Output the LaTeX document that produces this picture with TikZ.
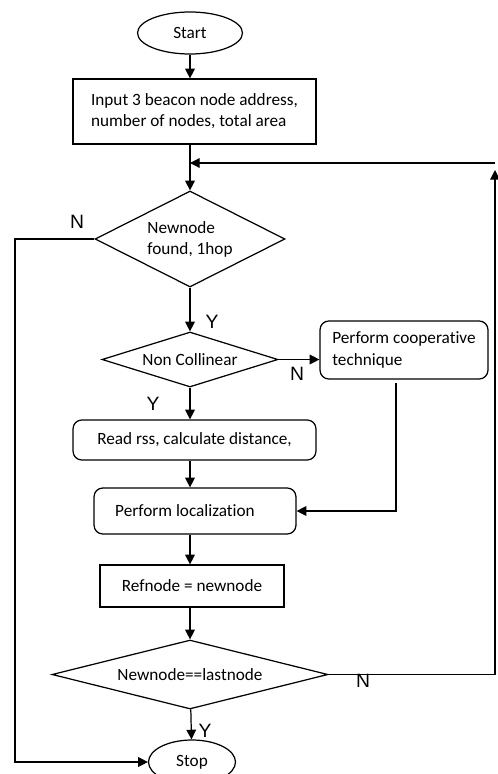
\documentclass[tikz,border=0pt]{standalone}
\usepackage{fontspec}
\setmainfont{Carlito}[Ligatures={NoCommon}]
\newfontfamily\ynfont{Liberation Sans}
\usetikzlibrary{shapes.geometric,arrows.meta}
\begin{document}
\begin{tikzpicture}[x=0.02cm,y=-0.02cm]
	\tikzstyle{every node}+=[inner sep=0pt,font=\fontsize{9.8}{12}\selectfont]
	\tikzstyle{term}=[draw,ellipse]
	\tikzstyle{proc}=[draw,rectangle,align=left]
	\tikzstyle{rproc}=[draw,rectangle,rounded corners=5pt,align=left]
	\tikzstyle{decision}=[draw,diamond,align=left]
	\tikzstyle{yn}=[font=\ynfont\fontsize{11}{13}\selectfont]
	\tikzstyle{arr}=[-{Triangle[length=5.5pt,width=5.5pt]}]
	\useasboundingbox (0,0) rectangle (497,774);
	\begin{scope}[line width=0.7pt]
	\node [term,minimum width=2.1cm,minimum height=0.84cm] (start) at (190,33) {Start};
	\node [proc,minimum width=4.86cm,minimum height=1.3cm] (input) at (194.5,111.5) {Input 3 beacon node address,\\number of nodes, total area};
	\node [decision,aspect=2,minimum width=3.8cm,minimum height=1.92cm] (d1) at (190,239) {Newnode\\found, 1hop};
	\node [decision,aspect=3.2,minimum width=3.52cm,minimum height=1.1cm] (d2) at (190,359.5) {Non Collinear};
	\node [rproc,minimum width=3.36cm,minimum height=1.16cm] (coop) at (404,350) {Perform cooperative\\technique};
	\node [rproc,minimum width=4.86cm,minimum height=0.8cm] (read) at (194.5,440) {Read rss, calculate distance,};
	\node [rproc,minimum width=4.04cm,minimum height=0.92cm] (loc) at (195,511) {Perform localization\hspace{0.4cm}};
	\node [proc,minimum width=3.68cm,minimum height=0.84cm] (ref) at (192,586) {Refnode = newnode};
	\node [decision,aspect=4,minimum width=5.52cm,minimum height=1.38cm] (d3) at (190,674.5) {Newnode==lastnode};
	\node [term,minimum width=1.74cm,minimum height=0.88cm] (stop) at (192,762) {Stop};
	\coordinate (join) at (190,163);
	\coordinate (rtop) at (495,163);
	\coordinate (rgt) at (495,170);
	\coordinate (lft) at (15,0);
	\coordinate (cb) at (396,383);
	\draw [arr] (start) -- (start |- input.north);
	\draw [arr] (input.south -| d1) -- (d1);
	\draw [arr] (d1) -- (d2);
	\draw [arr] (d2.east) -- (d2.east -| coop.west);
	\draw [arr] (d2) -- (d2 |- read.north);
	\draw [arr] (read.south -| d1) -- (d1 |- loc.north);
	\draw [arr] (loc.south -| d1) -- (d1 |- ref.north);
	\draw [arr] (ref.south -| d1) -- (d3);
	\draw [arr] (d3) -- (stop);
	\draw [arr] (cb) |- (loc.east);
	\draw [arr] (d1.west) -- (d1.west -| lft) |- (stop.west);
	\draw [arr] (d3.east) -- (d3.east -| rgt) -- (rgt);
	\draw [arr] (rtop) -- (join);
	\end{scope}
	\node [yn] (n1) at (77,222) {N};
	\node [yn] (y1) at (212,322) {Y};
	\node [yn] (n2) at (297,374) {N};
	\node [yn] (y2) at (153,404) {Y};
	\node [yn] (n3) at (363,681) {N};
	\node [yn] (y3) at (205,731) {Y};
\end{tikzpicture}
\end{document}
